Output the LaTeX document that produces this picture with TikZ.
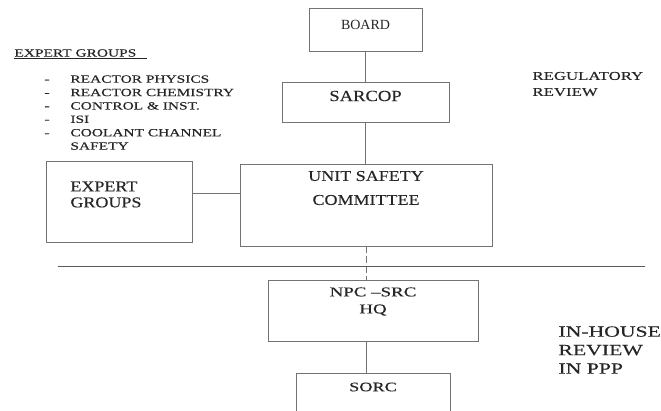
\documentclass[tikz,border=0pt]{standalone}
\usepackage{fontspec}
\setmainfont{Liberation Serif}
\newfontfamily\widefont{Liberation Serif}[FakeStretch=1.4, FakeBold=0.3]
\newfontfamily\halfwidefont{Liberation Serif}[FakeStretch=1.2, FakeBold=0.3]
\usepackage{tikz}
\usetikzlibrary{positioning}
\definecolor{linegray}{gray}{0.45}
\definecolor{textgray}{gray}{0.15}

\begin{document}
\begin{tikzpicture}[x=1pt, y=-1pt, line width=0.9pt,
 box/.style={rectangle, draw=linegray, line width=0.9pt, inner sep=0pt},
 txt/.style={text=textgray, inner sep=0pt},
 link/.style={draw=linegray, line width=0.9pt}]
\clip (0,0) rectangle (661,410);
% boxes
\node[box, minimum width=113pt, minimum height=43pt] (board) at (365.5,29.5) {};
\node[box, minimum width=167pt, minimum height=40pt] (sarcop) at (365.5,102) {};
\node[box, minimum width=146pt, minimum height=81pt] (grp) at (119,201.5) {};
\node[box, minimum width=252pt, minimum height=82pt] (usc) at (366,205) {};
\node[box, minimum width=210pt, minimum height=61pt] (npc) at (373,310.5) {};
\node[box, minimum width=154pt, minimum height=60pt] (sorc) at (373,403) {};
% box texts
\node[txt, font=\fontsize{14}{16}\selectfont] (boardtxt) at (365.5,25) {BOARD};
\node[txt, font=\halfwidefont\fontsize{15.5}{18}\selectfont] (sarcoptxt) at (365.5,96) {SARCOP};
\node[txt, anchor=west, align=left, font=\halfwidefont\fontsize{15}{16}\selectfont] (grptxt) at (70,194.5) {EXPERT\\GROUPS};
\node[txt, align=center, font=\halfwidefont\fontsize{15}{24}\selectfont] (usctxt) at (366,188) {UNIT SAFETY\\COMMITTEE};
\node[txt, align=center, font=\widefont\fontsize{13.5}{17}\selectfont] (npctxt) at (373,301.5) {NPC –SRC\\HQ};
\node[txt, font=\widefont\fontsize{13}{15}\selectfont] (sorctxt) at (373,387) {SORC};
% side texts
\node[txt, anchor=west, font=\widefont\fontsize{11}{13}\selectfont] (heading) at (14,53) {EXPERT GROUPS};
\draw[textgray, line width=0.6pt] ([yshift=-1.5pt]heading.south west) -- ++(133,0);
\node[txt, anchor=west, font=\widefont\fontsize{11}{13.4}\selectfont] (listtxt) at (44,113.5)
 {\begin{tabular}{@{}p{26pt}@{}l@{}}
 - & REACTOR PHYSICS\\
 - & REACTOR CHEMISTRY\\
 - & CONTROL \& INST.\\
 - & ISI\\
 - & COOLANT CHANNEL\\
   & SAFETY
 \end{tabular}};
\node[txt, anchor=west, align=left, font=\widefont\fontsize{12}{16}\selectfont] (regtxt) at (532,84) {REGULATORY\\REVIEW};
\node[txt, anchor=west, align=left, font=\widefont\fontsize{15.5}{18.5}\selectfont] (houstxt) at (558,350) {IN-HOUSE\\REVIEW\\IN PPP};
% connectors
\draw[link] (board) -- (sarcop);
\draw[link] (sarcop) -- (sarcop |- usc.north);
\coordinate (gx) at ([yshift=8.5pt]grp.east);
\draw[link] (gx) -- (gx -| usc.west);
\draw[link, dash pattern=on 7pt off 3pt] (usc.south) -- (usc.south |- npc.north);
\draw[link] (usc.south |- npc.south) -- (usc.south |- sorc.north);
\coordinate (ruleL) at (58,266);
\coordinate (ruleR) at (645,266);
\draw[link, draw=gray!70!black, line width=1pt] (ruleL) -- (ruleR);
\end{tikzpicture}
\end{document}
